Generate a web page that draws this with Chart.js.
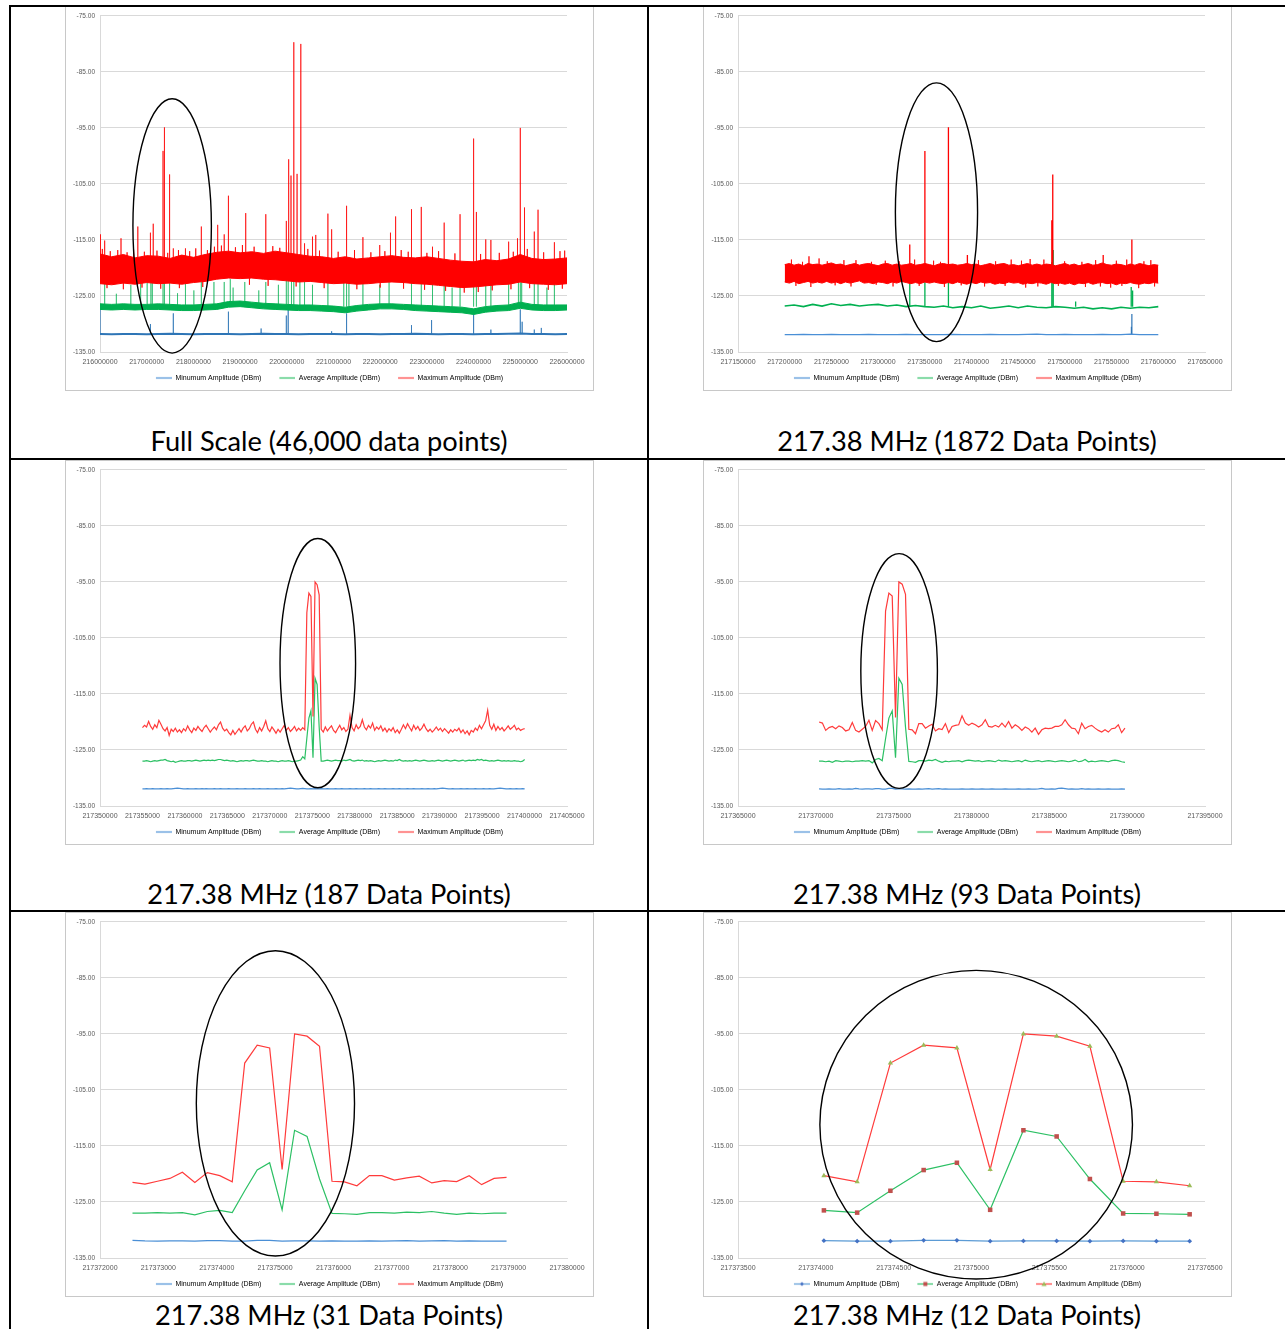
<!DOCTYPE html>
<html>
<head>
<meta charset="utf-8">
<title>217.38 MHz captures</title>
<script src="https://cdn.jsdelivr.net/npm/chart.js@4.4.1/dist/chart.umd.min.js"></script>
<style>
  html, body { margin: 0; background: #fff; }
  body { position: relative; width: 1285px; height: 1329px; overflow: hidden; }
  .rule { position: absolute; background: #000; }
  .box { position: absolute; width: 529px; height: 385px; border: 1px solid #c8c8c8; box-sizing: border-box; background: #fff; }
  .box canvas { display: block; }
  .cap { position: absolute; text-align: center; font-family: Lato, "Liberation Sans", sans-serif; color: #000; white-space: nowrap; line-height: normal; }
</style>
</head>
<body>
<div class="box" style="left:65px;top:6px"><canvas id="c1" width="527" height="383"></canvas></div>
<div class="box" style="left:703px;top:6px"><canvas id="c2" width="527" height="383"></canvas></div>
<div class="box" style="left:65px;top:460px"><canvas id="c3" width="527" height="383"></canvas></div>
<div class="box" style="left:703px;top:460px"><canvas id="c4" width="527" height="383"></canvas></div>
<div class="box" style="left:65px;top:912px"><canvas id="c5" width="527" height="383"></canvas></div>
<div class="box" style="left:703px;top:912px"><canvas id="c6" width="527" height="383"></canvas></div>

<div class="rule" style="left:10px;top:5px;width:1275px;height:2px"></div>
<div class="rule" style="left:9px;top:5px;width:2px;height:1324px"></div>
<div class="rule" style="left:647px;top:5px;width:2px;height:1324px"></div>
<div class="rule" style="left:10px;top:458px;width:1275px;height:2px"></div>
<div class="rule" style="left:10px;top:910px;width:1275px;height:2px"></div>

<div id="caps"></div>

<script>
// ---- axes ---------------------------------------------------------------
const yRange = [-135, -75, 10];
const fullXRange = [216000000, 226000000, 1000000];
const wideXRange = [217150000, 217650000, 50000];
const p3XRange = [217350000, 217405000, 5000];
const p4XRange = [217365000, 217395000, 5000];
const p5XRange = [217372000, 217380000, 1000];
const p6XRange = [217373500, 217376500, 500];

const seriesNames = ["Minumum Amplitude (DBm)", "Average Amplitude (DBm)", "Maximum Amplitude (DBm)"];
const captions = [
  "Full Scale (46,000 data points)", "217.38 MHz (1872 Data Points)",
  "217.38 MHz (187 Data Points)", "217.38 MHz (93 Data Points)",
  "217.38 MHz (31 Data Points)", "217.38 MHz (12 Data Points)",
];

// ---- full scale: noise bands (edges every 250 kHz) + spikes ----------------
const fullStart = 216000000, fullStep = 250000;
const fullRedTop = [-117.5, -118.0, -117.6, -118.2, -117.8, -117.9, -118.3, -117.7, -118.1, -117.6,
  -117.2, -117.0, -117.3, -117.1, -117.4, -117.0, -117.3, -117.6, -117.9, -118.0,
  -118.3, -118.0, -118.4, -118.2, -118.0, -117.8, -118.1, -118.2, -118.0, -118.3,
  -118.6, -118.8, -118.9, -118.5, -118.7, -118.4, -117.6, -118.3, -118.5, -118.4, -118.2];
const fullRedBottom = [-122.8, -123.0, -122.7, -122.9, -122.6, -122.8, -122.7, -122.9, -122.6, -122.4,
  -122.0, -121.8, -121.9, -121.8, -122.0, -122.1, -122.3, -122.5, -122.4, -122.6,
  -122.8, -122.7, -122.9, -122.8, -122.6, -122.5, -122.6, -122.8, -122.9, -123.1,
  -123.3, -123.5, -123.4, -123.2, -123.0, -122.9, -122.5, -122.8, -122.9, -123.0, -122.8];
// noise hairs out of the red band (37 up, then 22 down)
const fullHairX = [216050000, 216220000, 216380000, 216580000, 216720000, 216950000, 217220000, 217450000, 217680000, 217920000,
  218050000, 218300000, 218450000, 218600000, 218900000, 219050000, 219300000, 219700000, 219850000, 220450000,
  220700000, 221100000, 221450000, 221800000, 222100000, 222450000, 222600000, 223000000, 223250000, 223600000,
  224150000, 224550000, 224850000, 225150000, 225500000, 225850000, 225950000,
  216150000, 216500000, 216900000, 217300000, 217700000, 218200000, 219200000, 219600000, 220200000, 220800000,
  221500000, 222000000, 222500000, 222950000, 223400000, 223800000, 224100000, 224400000, 224800000, 225200000,
  225600000, 225900000];
const fullHairTip = [-116.6, -117.0, -116.8, -117.2, -116.7, -117.1, -116.9, -117.3, -116.8, -117.0,
  -116.5, -116.8, -116.2, -116.0, -116.3, -115.9, -116.2, -116.1, -116.4, -116.6,
  -116.9, -117.1, -116.8, -117.2, -117.0, -116.8, -117.1, -117.3, -117.0, -117.4,
  -117.5, -117.3, -117.1, -116.6, -117.2, -117.0, -116.9,
  -123.6, -123.8, -123.5, -123.7, -123.6, -123.4, -123.0, -123.2, -123.3, -123.6,
  -123.8, -123.5, -123.7, -123.9, -124.1, -124.4, -124.3, -124.0, -123.8, -123.6,
  -123.9, -123.7];
const fullGreenTop = [-126.4, -126.5, -126.4, -126.5, -126.5, -126.4, -126.5, -126.6, -126.6, -126.5,
  -126.4, -126.0, -125.9, -126.1, -126.3, -126.4, -126.5, -126.6, -126.6, -126.7,
  -126.8, -127.0, -126.7, -126.5, -126.4, -126.4, -126.5, -126.6, -126.7, -126.8,
  -126.9, -127.0, -127.3, -126.9, -126.7, -126.6, -126.1, -126.5, -126.6, -126.6, -126.6];
const fullGreenBottom = [-127.4, -127.5, -127.4, -127.5, -127.4, -127.4, -127.5, -127.6, -127.6, -127.5,
  -127.4, -127.0, -126.9, -127.1, -127.3, -127.4, -127.5, -127.6, -127.6, -127.7,
  -127.8, -128.0, -127.7, -127.5, -127.3, -127.3, -127.4, -127.6, -127.7, -127.8,
  -127.9, -128.0, -128.3, -127.9, -127.7, -127.6, -127.2, -127.5, -127.6, -127.6, -127.5];
const fullBlue = [-131.8, -131.85, -131.8, -131.8, -131.85, -131.8, -131.75, -131.8, -131.85, -131.8,
  -131.8, -131.8, -131.85, -131.8, -131.75, -131.8, -131.8, -131.85, -131.8, -131.8,
  -131.8, -131.85, -131.8, -131.8, -131.85, -131.8, -131.8, -131.75, -131.8, -131.85,
  -131.8, -131.8, -131.85, -131.8, -131.8, -131.75, -131.7, -131.8, -131.8, -131.85, -131.8];
const fullRedSpikeX = [216010000, 216100000, 216450000, 216810000, 217080000, 217140000, 217350000, 217380000, 217490000, 217570000,
  217830000, 218170000, 218520000, 218660000, 218750000, 219120000, 219550000, 219990000, 220040000, 220090000,
  220150000, 220220000, 220300000, 220380000, 220550000, 220620000, 220880000, 220960000, 221280000, 221630000,
  221990000, 222220000, 222330000, 222670000, 222880000, 223120000, 223370000, 223710000, 224000000, 224060000,
  224260000, 224370000, 224750000, 224940000, 225000000, 225090000, 225300000, 225380000, 225730000];
const fullRedSpikeTop = [-114.0, -115.1, -114.7, -112.6, -113.7, -112.1, -99.1, -94.9, -103.3, -116.5,
  -116.5, -112.6, -112.3, -114.0, -107.1, -110.2, -110.4, -111.6, -100.6, -103.5,
  -79.7, -103.2, -80.0, -115.6, -114.4, -114.1, -110.3, -113.1, -108.9, -114.5,
  -115.9, -113.7, -110.8, -109.5, -109.1, -116.2, -111.9, -110.4, -96.9, -110.0,
  -114.9, -115.0, -115.3, -114.7, -95.0, -109.2, -113.5, -109.6, -115.4];
const fullGreenSpikeX = [216100000, 216350000, 216660000, 216870000, 217010000, 217090000, 217120000, 217350000, 217380000, 217490000,
  217660000, 217830000, 218010000, 218170000, 218440000, 218660000, 218790000, 218850000, 219100000, 219400000,
  219550000, 219820000, 219990000, 220030000, 220100000, 220150000, 220280000, 220380000, 220550000, 220880000,
  221220000, 221280000, 221330000, 221630000, 221990000, 222190000, 222670000, 222880000, 223120000, 223370000,
  223540000, 223710000, 224000000, 224060000, 224260000, 224370000, 224750000, 224960000, 225000000, 225030000,
  225300000, 225380000, 225570000, 225730000];
const fullGreenSpikeTop = [-122.5, -124.6, -123.0, -122.5, -122.5, -122.5, -122.5, -122.0, -122.0, -122.0,
  -124.5, -122.5, -124.0, -122.5, -122.5, -122.5, -122.0, -123.5, -122.5, -124.0,
  -122.5, -123.0, -122.0, -122.0, -122.0, -122.0, -122.0, -122.5, -123.0, -122.5,
  -122.0, -122.0, -122.0, -122.5, -123.0, -122.5, -122.5, -122.5, -122.5, -122.5,
  -123.5, -122.5, -122.5, -122.0, -123.0, -122.5, -122.5, -122.0, -122.0, -122.0,
  -122.5, -122.5, -123.5, -122.5];
const fullBlueSpikeX = [216000000, 217080000, 217570000, 218750000, 219450000, 219990000, 220030000, 220960000, 221280000,
  222670000, 223100000, 224000000, 224370000, 225000000, 225040000, 225300000, 225450000];
const fullBlueSpikeTop = [-127.3, -130.0, -128.1, -127.8, -130.8, -128.5, -127.5, -131.3, -128.1,
  -130.2, -129.3, -127.8, -131.0, -127.4, -129.6, -131.0, -130.7];

// ---- 1872 points: red band edges every 5 kHz, green/blue every 10 kHz ----
const wideStart = 217200000, wideBandStep = 5000, wideLineStep = 10000;
const wideRedTop = [-119.4, -119.2, -119.5, -119.3, -119.6, -119.2, -119.4, -119.3, -119.5, -119.3,
  -119.1, -119.4, -119.3, -119.6, -119.4, -119.2, -119.5, -119.3, -119.2, -119.4,
  -119.6, -119.3, -119.2, -119.5, -119.3, -119.5, -119.4, -119.2, -119.5, -119.4,
  -119.2, -119.4, -119.6, -119.3, -119.2, -119.4, -119.3, -119.5, -119.4, -119.2,
  -119.4, -119.3, -119.6, -119.4, -119.2, -119.5, -119.3, -119.2, -119.5, -119.4,
  -119.6, -119.4, -119.2, -119.5, -119.3, -119.5, -119.3, -119.4, -119.6, -119.4,
  -119.2, -119.5, -119.3, -119.6, -119.4, -119.2, -119.5, -119.4, -119.1, -119.4,
  -119.5, -119.3, -119.4, -119.6, -119.3, -119.5, -119.2, -119.4, -119.6, -119.4, -119.5];
const wideRedBottom = [-122.5, -122.7, -122.4, -122.8, -122.6, -122.4, -122.7, -122.5, -122.7, -122.4,
  -122.7, -122.5, -122.8, -122.5, -122.7, -122.5, -122.3, -122.7, -122.6, -122.8,
  -122.5, -122.6, -122.8, -122.5, -122.7, -122.4, -122.6, -122.8, -122.6, -122.8,
  -122.5, -122.7, -122.5, -122.7, -122.8, -122.6, -122.8, -122.5, -122.7, -122.9,
  -122.6, -122.8, -122.5, -122.7, -122.6, -122.9, -122.7, -122.8, -122.5, -122.7,
  -122.6, -122.9, -122.7, -122.8, -122.6, -122.7, -122.9, -122.6, -122.8, -122.7,
  -122.9, -122.7, -123.0, -122.7, -122.8, -122.6, -122.9, -122.7, -122.6, -122.8,
  -122.7, -123.0, -122.7, -122.8, -122.6, -122.8, -122.9, -122.7, -122.8, -122.6, -122.7];
// noise hairs sticking out of the red band (up, then down)
const wideHairX = [217207200, 217219100, 217236800, 217245600, 217263400, 217276300, 217292900, 217307700, 217322500, 217339100,
  217359400, 217366800, 217407400, 217425800, 217442500, 217453500, 217462800, 217477500, 217499700, 217518200,
  217532900, 217555100, 217566200, 217584600, 217592000,
  217212000, 217228000, 217254000, 217271000, 217298000, 217316000, 217344000, 217371000, 217389000, 217414000,
  217436000, 217458000, 217471000, 217493000, 217522000, 217538000, 217549000, 217561000, 217579000, 217596000];
const wideHairTip = [-118.5, -118.9, -118.3, -118.8, -118.6, -118.6, -118.9, -118.7, -118.8, -118.5,
  -118.7, -118.9, -118.6, -118.8, -118.5, -118.7, -118.4, -118.5, -118.8, -118.9,
  -118.6, -118.7, -118.5, -118.8, -118.6,
  -123.2, -123.4, -123.1, -123.3, -123.0, -123.3, -123.2, -123.4, -123.1, -123.3,
  -123.2, -123.5, -123.3, -123.2, -123.4, -123.3, -123.5, -123.2, -123.6, -123.3];
const wideGreen = [-126.8, -126.6, -126.9, -126.5, -126.8, -126.4, -126.7, -126.5, -126.8, -126.6,
  -126.5, -126.8, -126.6, -126.9, -126.7, -126.9, -127.0, -126.8, -127.1, -126.9,
  -127.1, -126.8, -127.2, -127.0, -126.8, -127.1, -126.8, -127.0, -127.1, -126.9,
  -127.0, -127.2, -127.0, -127.3, -127.1, -127.3, -127.0, -127.2, -127.0, -127.1, -126.9];
const wideBlue = [-131.9, -131.9, -131.85, -131.9, -131.9, -131.85, -131.9, -131.9, -131.9, -131.85,
  -131.9, -131.9, -131.9, -131.85, -131.9, -131.9, -131.9, -131.9, -131.85, -131.9,
  -131.9, -131.9, -131.85, -131.9, -131.9, -131.9, -131.85, -131.8, -131.9, -131.9,
  -131.85, -131.9, -131.9, -131.9, -131.85, -131.9, -131.9, -131.8, -131.9, -131.9, -131.9];
const wideRedSpikeX = [217226000, 217333900, 217350100, 217375300, 217395600, 217486000, 217487000, 217541000, 217571700];
const wideRedSpikeTop = [-117.9, -115.8, -99.1, -94.9, -117.7, -111.5, -103.3, -117.7, -114.9];
const wideGreenSpikeX = [217333900, 217350100, 217375300, 217486000, 217487500, 217511500, 217571000, 217572500];
const wideGreenSpikeTop = [-121.5, -121.5, -121.0, -119.0, -116.8, -126.0, -123.4, -124.0];
const wideBlueSpikeX = [217571200, 217571700];
const wideBlueSpikeTop = [-130.5, -128.2];

// ---- 187 points ----------------------------------------------------------
const p3Start = 217355000, p3Step = 242;
const p3Red = [-121.0, -120.6, -120.9, -119.9, -120.8, -121.3, -120.5, -121.0, -119.7, -120.4,
  -121.2, -121.6, -121.0, -122.4, -121.3, -121.7, -121.1, -121.8, -121.4, -121.9,
  -121.2, -121.6, -120.7, -121.4, -121.9, -121.1, -121.5, -120.8, -121.3, -121.7,
  -121.0, -120.6, -121.2, -121.8, -121.3, -120.9, -121.4, -120.5, -120.0, -121.1,
  -121.6, -121.3, -121.9, -122.3, -121.5, -122.2, -121.7, -121.2, -121.8, -121.1,
  -120.7, -121.6, -121.2, -120.4, -120.0, -121.3, -121.9, -121.0, -121.6, -120.8,
  -119.8, -121.2, -121.7, -120.9, -121.4, -122.0, -121.3, -121.8, -121.2, -120.6,
  -121.5, -121.0, -121.7, -121.3, -120.8, -121.6, -121.1, -121.5, -121.0, -121.4,
  -100.5, -97.0, -97.6, -119.0, -95.0, -95.5, -97.3, -121.3, -121.8, -120.9,
  -121.6, -121.1, -120.7, -121.5, -121.9, -121.2, -120.6, -121.4, -121.0, -121.7,
  -121.3, -118.8, -121.0, -121.6, -120.5, -121.2, -120.8, -119.6, -120.9, -121.4,
  -120.6, -121.1, -120.2, -121.5, -120.9, -121.3, -120.7, -121.6, -121.1, -121.8,
  -121.2, -121.6, -121.0, -121.9, -121.4, -122.0, -121.3, -120.5, -121.2, -120.3,
  -121.0, -121.6, -120.6, -121.3, -120.8, -121.5, -121.1, -120.4, -121.2, -121.7,
  -121.3, -121.8, -121.4, -120.9, -121.5, -121.1, -121.7, -121.2, -121.6, -122.0,
  -121.4, -121.8, -121.3, -121.6, -121.1, -121.9, -121.4, -122.1, -121.6, -122.3,
  -121.5, -121.8, -121.1, -121.5, -120.6, -121.2, -120.5, -119.8, -117.9, -120.6,
  -121.3, -120.4, -121.5, -120.8, -121.4, -121.0, -121.6, -121.2, -120.7, -121.3,
  -121.0, -120.6, -121.4, -121.1, -121.5, -121.3, -121.2];
const p3Green = [-127.0, -127.0, -126.9, -127.0, -127.1, -127.0, -126.9, -127.0, -126.9, -126.8,
  -126.8, -126.7, -126.9, -127.0, -127.1, -127.0, -127.2, -127.1, -127.0, -126.9,
  -127.0, -127.0, -126.9, -126.9, -127.0, -126.9, -126.8, -126.9, -127.0, -126.9,
  -126.8, -126.9, -126.8, -126.9, -126.8, -126.9, -126.8, -126.7, -126.7, -126.8,
  -126.9, -126.8, -126.9, -127.0, -126.9, -127.0, -127.1, -127.0, -126.9, -127.0,
  -126.9, -126.9, -127.0, -126.9, -126.8, -126.9, -127.0, -127.0, -126.9, -127.0,
  -127.0, -127.1, -127.0, -126.9, -127.0, -127.0, -127.1, -127.0, -126.9, -127.0,
  -127.0, -126.9, -127.0, -127.1, -127.0, -127.0, -126.9, -126.8, -126.2, -126.6,
  -122.9, -119.3, -118.0, -126.4, -112.2, -113.3, -120.9, -127.0, -127.0, -126.9,
  -126.8, -126.9, -127.0, -126.9, -126.8, -126.9, -126.9, -127.0, -126.8, -126.9,
  -126.8, -126.7, -126.9, -127.0, -126.9, -126.8, -126.9, -126.8, -127.0, -126.9,
  -127.0, -126.9, -127.0, -127.1, -127.0, -126.9, -127.0, -126.9, -126.8, -126.9,
  -127.0, -126.9, -127.0, -126.8, -126.9, -126.7, -126.9, -127.0, -126.9, -127.0,
  -126.9, -127.0, -126.9, -126.8, -126.9, -127.0, -126.9, -126.8, -126.9, -127.0,
  -127.0, -126.9, -127.0, -126.9, -126.8, -126.9, -127.0, -126.9, -126.8, -126.9,
  -127.0, -126.9, -126.8, -126.9, -127.0, -126.9, -126.8, -127.0, -126.9, -126.8,
  -126.9, -126.8, -126.9, -126.7, -126.8, -126.7, -126.9, -126.8, -126.9, -127.0,
  -126.9, -127.0, -126.9, -126.8, -126.9, -127.0, -126.9, -127.0, -126.9, -127.0,
  -127.0, -126.9, -127.0, -127.0, -127.1, -127.0, -126.7];
const p3Blue = [-131.95, -131.95, -131.9, -131.95, -131.95, -131.9, -131.95, -131.95, -131.95, -131.9,
  -131.95, -131.95, -131.9, -131.95, -131.95, -131.9, -131.85, -131.8, -131.85, -131.9,
  -131.95, -131.95, -131.9, -131.95, -131.95, -131.95, -131.9, -131.95, -131.95, -131.9,
  -131.95, -131.9, -131.95, -131.95, -131.95, -131.9, -131.95, -131.95, -131.9, -131.95,
  -131.95, -131.95, -131.9, -131.95, -131.95, -131.95, -131.9, -131.95, -131.95, -131.95,
  -131.9, -131.95, -131.95, -131.95, -131.9, -131.95, -131.95, -131.9, -131.95, -131.95,
  -131.95, -131.9, -131.95, -131.95, -131.95, -131.9, -131.95, -131.95, -131.9, -131.95,
  -131.9, -131.85, -131.8, -131.85, -131.9, -131.95, -131.95, -131.9, -131.85, -131.9,
  -131.95, -131.95, -131.9, -131.95, -131.9, -131.95, -131.95, -131.9, -131.95, -131.95,
  -131.9, -131.95, -131.95, -131.95, -131.9, -131.95, -131.95, -131.9, -131.95, -131.95,
  -131.95, -131.9, -131.95, -131.95, -131.9, -131.95, -131.95, -131.95, -131.9, -131.95,
  -131.95, -131.9, -131.95, -131.95, -131.95, -131.9, -131.95, -131.95, -131.9, -131.95,
  -131.95, -131.95, -131.9, -131.95, -131.95, -131.9, -131.95, -131.95, -131.95, -131.9,
  -131.95, -131.95, -131.9, -131.95, -131.95, -131.95, -131.9, -131.95, -131.95, -131.9,
  -131.95, -131.95, -131.9, -131.95, -131.9, -131.85, -131.8, -131.85, -131.9, -131.95,
  -131.95, -131.9, -131.95, -131.95, -131.95, -131.9, -131.95, -131.95, -131.9, -131.95,
  -131.95, -131.95, -131.9, -131.95, -131.95, -131.95, -131.9, -131.95, -131.95, -131.9,
  -131.95, -131.95, -131.9, -131.85, -131.8, -131.85, -131.9, -131.95, -131.95, -131.9,
  -131.95, -131.95, -131.9, -131.95, -131.95, -131.9, -131.95];

// ---- 93 points (the 31- and 12-point views are slices of this sweep) ------
const p4Start = 217370207, p4Step = 213.6;
const p4Red = [-120.0, -120.2, -121.5, -121.0, -120.8, -121.2, -120.7, -121.0, -121.6, -121.4, -120.1,
  -121.5, -121.8, -121.3, -120.8, -119.7, -121.5, -119.75, -120.3, -121.4, -100.2,
  -97.0, -97.5, -119.2, -95.0, -95.4, -97.2, -121.3, -121.4, -122.1, -120.3,
  -120.3, -121.1, -120.7, -120.4, -121.6, -121.2, -121.35, -120.3, -121.9, -120.8, -120.6,
  -120.5, -118.9, -120.2, -120.6, -120.2, -120.5, -120.9, -120.5, -119.6, -120.8,
  -120.9, -120.6, -120.9, -120.2, -120.9, -119.9, -121.1, -120.5, -120.9, -121.5,
  -120.9, -121.2, -121.8, -121.1, -122.2, -121.4, -121.1, -121.2, -121.1, -120.8,
  -120.8, -120.5, -119.6, -120.5, -121.1, -121.2, -122.1, -120.2, -121.2, -120.8,
  -120.6, -121.1, -121.5, -121.8, -121.4, -121.8, -121.2, -121.1, -120.5, -121.9, -121.1];
const p4Green = [-127.0, -127.0, -127.1, -127.0, -127.2, -126.9, -127.0, -127.1, -127.0, -127.0, -127.1,
  -127.0, -127.0, -126.9, -127.0, -126.9, -127.3, -126.7, -126.5, -126.9, -123.0,
  -119.3, -118.0, -126.4, -112.2, -113.3, -120.9, -127.05, -127.1, -127.2, -126.9,
  -126.9, -127.0, -126.8, -126.9, -126.7, -127.0, -127.2, -127.0, -127.1, -127.0, -127.0,
  -126.9, -127.1, -126.9, -126.8, -126.9, -127.0, -126.9, -127.1, -127.0, -126.9,
  -127.0, -127.1, -126.8, -127.0, -126.9, -127.0, -127.1, -127.0, -126.9, -127.1,
  -126.8, -127.0, -127.1, -127.0, -126.9, -127.1, -127.0, -126.9, -127.0, -127.1,
  -127.0, -126.9, -127.0, -127.1, -127.0, -126.8, -127.1, -127.0, -126.7, -127.1,
  -127.0, -127.1, -127.0, -126.9, -127.0, -127.1, -126.9, -126.8, -126.9, -127.1, -127.2];
const p4Blue = [-131.95, -132.0, -132.0, -131.95, -132.0, -132.0, -131.9, -132.0, -132.0, -131.95, -132.0,
  -131.85, -131.95, -132.0, -131.95, -131.95, -132.0, -131.9, -131.9, -132.0, -132.0,
  -131.85, -131.85, -132.0, -131.95, -131.95, -132.0, -131.95, -132.0, -132.0, -131.95,
  -132.0, -131.95, -131.9, -132.0, -131.95, -131.9, -132.0, -131.95, -132.0, -132.0, -132.0,
  -132.0, -131.95, -132.0, -132.0, -131.95, -132.0, -132.0, -131.95, -132.0, -132.0,
  -131.95, -132.0, -132.0, -132.0, -131.95, -132.0, -132.0, -132.0, -131.95, -132.0,
  -132.0, -131.95, -132.0, -132.0, -131.95, -131.85, -132.0, -132.0, -131.95, -132.0,
  -131.85, -131.8, -131.9, -132.0, -131.95, -132.0, -132.0, -131.9, -132.0, -131.95,
  -132.0, -132.0, -131.95, -132.0, -132.0, -131.95, -132.0, -132.0, -132.0, -131.95, -132.0];
const p5Slice = [11, 42];
const p6Slice = [18, 30];

// ---- hand-drawn rings: centre x, centre y, half-width (Hz), half-height (dB)
const rings = [
  [217545000, -112.5, 840000, 22.7],
  [217362500, -110.05, 44000, 23.1],
  [217375650, -109.5, 4450, 22.25],
  [217375350, -110.9, 2460, 20.95],
  [217375005, -107.4, 1355, 27.25],
  [217375030, -111.2, 1004, 27.55],
];

// ---- style --------------------------------------------------------------
const GRID = "#d9d9d9", TEXT = "#595959";
const RED = "#ff0000", GREEN = "#00b050", BLUE = "#2e75b6";
const RED_L = "#ff3b3b", GREEN_L = "#2cc064", BLUE_L = "#4a8fd6";

Chart.defaults.font.family = "'Liberation Sans', Arial, sans-serif";

function grid(start, step, n) { return Array.from({ length: n }, (_, i) => start + step * i); }
function pts(xs, ys) { return ys.map((y, i) => ({ x: xs[i], y })); }
function spikes(xs, tops, base) {
  const out = [];
  xs.forEach((x, i) => { out.push({ x, y: base }, { x, y: tops[i] }, { x, y: base }, { x, y: null }); });
  return out;
}
function line(data, color, width, order, extra) {
  return Object.assign({ data, borderColor: color, backgroundColor: color, borderWidth: width,
    pointRadius: 0, fill: false, tension: 0, order }, extra || {});
}

// legend swatch: 14px of air (the gap to the previous item), then the line sample
function swatch(color, marker, mcolor) {
  const c = document.createElement("canvas");
  c.width = 30; c.height = 7;
  const g = c.getContext("2d");
  g.strokeStyle = color; g.lineWidth = 1.2;
  g.beginPath(); g.moveTo(14, 3.5); g.lineTo(30, 3.5); g.stroke();
  g.fillStyle = mcolor;
  if (marker === "rectRot") { g.beginPath(); g.moveTo(22, 1.4); g.lineTo(24.1, 3.5); g.lineTo(22, 5.6); g.lineTo(19.9, 3.5); g.fill(); }
  if (marker === "rect") g.fillRect(20, 1.5, 4, 4);
  if (marker === "triangle") { g.beginPath(); g.moveTo(22, 1); g.lineTo(24.6, 5.6); g.lineTo(19.4, 5.6); g.fill(); }
  return c;
}

const ringPlugin = {
  id: "ring",
  afterDraw(chart, args, o) {
    const { x, y } = chart.scales;
    const cx = x.getPixelForValue(o.cx), cy = y.getPixelForValue(o.cy);
    const rx = Math.abs(x.getPixelForValue(o.cx + o.rx) - cx);
    const ry = Math.abs(y.getPixelForValue(o.cy + o.ry) - cy);
    const ctx = chart.ctx;
    ctx.save();
    ctx.beginPath(); ctx.ellipse(cx, cy, rx, ry, 0, 0, Math.PI * 2);
    ctx.lineWidth = 1.4; ctx.strokeStyle = "#000"; ctx.stroke();
    ctx.restore();
  },
};

function build(id, xRange, datasets, swatches, ring) {
  return new Chart(document.getElementById(id), {
    type: "line",
    data: { datasets },
    options: {
      responsive: false, animation: false, events: [], devicePixelRatio: 1,
      layout: { padding: { left: 0, right: 14, top: 8, bottom: 0 } },
      scales: {
        x: {
          type: "linear", min: xRange[0], max: xRange[1],
          grid: { display: false, drawTicks: false },
          border: { display: true, color: GRID },
          ticks: { stepSize: xRange[2], autoSkip: false, maxRotation: 0, minRotation: 0, padding: 5.5,
            color: TEXT, font: { size: 7 }, callback: (v) => String(v) },
          afterFit: (s) => { s.height = 18.5; },
        },
        y: {
          type: "linear", min: yRange[0], max: yRange[1],
          grid: { color: GRID, drawTicks: false },
          border: { display: true, color: GRID },
          ticks: { stepSize: yRange[2], padding: 5, color: TEXT, font: { size: 6.5 }, callback: (v) => v.toFixed(2) },
          afterFit: (s) => { s.width = 34; },
        },
        // empty strip on the right so the plot ends where Excel's did
        gap: {
          type: "linear", position: "right", grid: { display: false }, border: { display: false },
          ticks: { display: false }, afterFit: (s) => { s.width = 12; },
        },
      },
      plugins: {
        tooltip: { enabled: false },
        legend: {
          position: "bottom", align: "center", maxHeight: 19.5,
          labels: {
            usePointStyle: true, pointStyleWidth: 30, padding: 4, color: TEXT, font: { size: 7 },
            generateLabels: () => seriesNames.map((text, i) => ({
              text, pointStyle: swatches[i], hidden: false, lineWidth: 0, datasetIndex: i,
              fillStyle: "transparent", strokeStyle: "transparent",
            })),
          },
        },
        ring: { cx: ring[0], cy: ring[1], rx: ring[2], ry: ring[3] },
      },
    },
    plugins: [ringPlugin],
  });
}

const plainSwatches = () => [swatch(BLUE_L), swatch(GREEN_L), swatch(RED_L)];

// 1: full scale
const fullGrid = grid(fullStart, fullStep, fullRedTop.length);
build("c1", fullXRange, [
  line(pts(fullGrid, fullBlue), BLUE, 2, 3),
  line(spikes(fullBlueSpikeX, fullBlueSpikeTop, -131.8), "rgba(46,117,182,0.75)", 1, 3),
  line(pts(fullGrid, fullGreenTop), GREEN, 1, 2, { fill: "+1" }),
  line(pts(fullGrid, fullGreenBottom), GREEN, 1, 2),
  line(spikes(fullGreenSpikeX, fullGreenSpikeTop, -126.9), "rgba(0,176,80,0.55)", 1, 2),
  line(pts(fullGrid, fullRedTop), RED, 1, 1, { fill: "+1" }),
  line(pts(fullGrid, fullRedBottom), RED, 1, 1),
  line(spikes(fullHairX, fullHairTip, -120.5), "rgba(255,0,0,0.8)", 1, 1),
  line(spikes(fullRedSpikeX, fullRedSpikeTop, -120.5), "rgba(255,0,0,0.7)", 1, 1),
], plainSwatches(), rings[0]);

// 2: 1872 points
const wideBandGrid = grid(wideStart, wideBandStep, wideRedTop.length);
const wideLineGrid = grid(wideStart, wideLineStep, wideGreen.length);
build("c2", wideXRange, [
  line(pts(wideLineGrid, wideBlue), BLUE_L, 1.3, 3),
  line(spikes(wideBlueSpikeX, wideBlueSpikeTop, -131.9), BLUE, 1.2, 3),
  line(pts(wideLineGrid, wideGreen), GREEN, 1.6, 2),
  line(spikes(wideGreenSpikeX, wideGreenSpikeTop, -126.9), GREEN, 1.3, 2),
  line(pts(wideBandGrid, wideRedTop), RED, 1, 1, { fill: "+1" }),
  line(pts(wideBandGrid, wideRedBottom), RED, 1, 1),
  line(spikes(wideHairX, wideHairTip, -121.0), "rgba(255,0,0,0.8)", 1, 1),
  line(spikes(wideRedSpikeX, wideRedSpikeTop, -120.8), RED, 1.3, 1),
], plainSwatches(), rings[1]);

// 3: 187 points
const p3Grid = grid(p3Start, p3Step, p3Red.length);
build("c3", p3XRange, [
  line(pts(p3Grid, p3Blue), BLUE_L, 1.2, 3),
  line(pts(p3Grid, p3Green), GREEN_L, 1.2, 2),
  line(pts(p3Grid, p3Red), RED_L, 1.2, 1),
], plainSwatches(), rings[2]);

// 4: 93 points
const p4Grid = grid(p4Start, p4Step, p4Red.length);
build("c4", p4XRange, [
  line(pts(p4Grid, p4Blue), BLUE_L, 1.2, 3),
  line(pts(p4Grid, p4Green), GREEN_L, 1.2, 2),
  line(pts(p4Grid, p4Red), RED_L, 1.2, 1),
], plainSwatches(), rings[3]);

// 5: 31 points
const p5Grid = p4Grid.slice(...p5Slice);
build("c5", p5XRange, [
  line(pts(p5Grid, p4Blue.slice(...p5Slice)), BLUE_L, 1.2, 3),
  line(pts(p5Grid, p4Green.slice(...p5Slice)), GREEN_L, 1.2, 2),
  line(pts(p5Grid, p4Red.slice(...p5Slice)), RED_L, 1.2, 1),
], plainSwatches(), rings[4]);

// 6: 12 points, with markers
const p6Grid = p4Grid.slice(...p6Slice);
const MK_BLUE = "#4472c4", MK_RED = "#c0504d", MK_GREEN = "#9bbb59";
build("c6", p6XRange, [
  line(pts(p6Grid, p4Blue.slice(...p6Slice)), "#5b9bd5", 1.2, 3,
    { pointRadius: 2.4, pointStyle: "rectRot", pointBackgroundColor: MK_BLUE, pointBorderColor: MK_BLUE, pointBorderWidth: 0 }),
  line(pts(p6Grid, p4Green.slice(...p6Slice)), GREEN_L, 1.2, 2,
    { pointRadius: 3.2, pointStyle: "rect", pointBackgroundColor: MK_RED, pointBorderColor: MK_RED, pointBorderWidth: 0 }),
  line(pts(p6Grid, p4Red.slice(...p6Slice)), RED_L, 1.2, 1,
    { pointRadius: 3, pointStyle: "triangle", pointBackgroundColor: MK_GREEN, pointBorderColor: MK_GREEN, pointBorderWidth: 0 }),
], [swatch("#5b9bd5", "rectRot", MK_BLUE), swatch(GREEN_L, "rect", MK_RED), swatch(RED_L, "triangle", MK_GREEN)], rings[5]);

// ---- captions under each picture ----------------------------------------
const capBaselines = [451, 451, 904, 904, 1325, 1325];
const measure = document.createElement("canvas").getContext("2d");
measure.font = "100px Lato";
const capSize = 100 * 357 / measure.measureText(captions[0]).width;
const holder = document.getElementById("caps");
captions.forEach((text, i) => {
  const d = document.createElement("div");
  d.className = "cap";
  d.textContent = text;
  const left = i % 2 === 0;
  d.style.left = (left ? 10 : 649) + "px";
  d.style.width = (left ? 638 : 636) + "px";
  d.style.fontSize = capSize.toFixed(2) + "px";
  d.style.top = (capBaselines[i] - 0.987 * capSize).toFixed(1) + "px";
  holder.appendChild(d);
});
</script>
</body>
</html>
